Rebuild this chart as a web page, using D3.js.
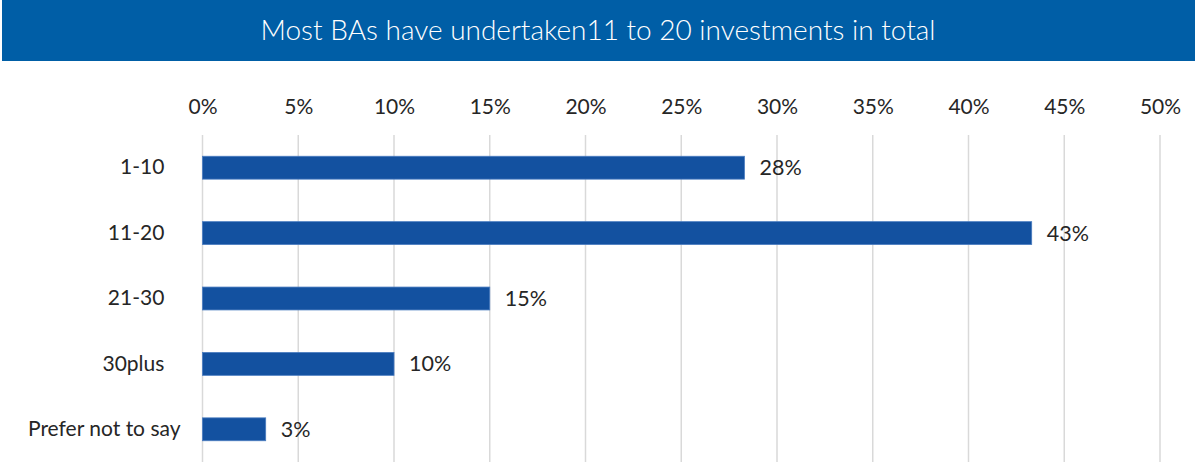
<!DOCTYPE html>
<html lang="en">
<head>
  <meta charset="UTF-8">
  <title>Number of investments</title>
  <script src="https://d3js.org/d3.v7.min.js"></script>
  <style>
    body {
      margin: 0;
      background: #fff;
      font-family: "Lato", "Noto Sans", sans-serif;
    }
    .grid line {
      stroke: #d9d9d9;
      stroke-width: 1.5;
    }
    .axis text {
      font-family: "Lato", "Noto Sans", sans-serif;
      font-size: 21px;
      fill: #262626;
    }
    .bar {
      fill: #1351a0;
      stroke: #4a7cc0;
      stroke-width: 0.8;
    }
    .label {
      font-size: 21.5px;
      fill: #262626;
    }
  </style>
</head>
<body>
  <div id="chart"></div>
  <script>
    // category names as in the source sheet (short ones carry trailing spaces)
    var categories = ["1-10\u00a0\u00a0\u00a0", "11-20\u00a0\u00a0\u00a0", "21-30\u00a0\u00a0\u00a0", "30plus\u00a0\u00a0\u00a0", "Prefer not to say"];
    var values = [28.3, 43.3, 15.0, 10.0, 3.3];
    var valueLabels = ["28%", "43%", "15%", "10%", "3%"];
    var tickValues = [0, 5, 10, 15, 20, 25, 30, 35, 40, 45, 50];
    var title = "Most BAs have undertaken11 to 20 investments in total";

    var W = 1195, H = 465;
    var margin = { top: 135, right: 35, bottom: 3, left: 202.5 };

    var svg = d3.select("#chart").append("svg")
      .attr("width", W)
      .attr("height", H);

    // title banner
    svg.append("rect")
      .attr("x", 2)
      .attr("y", 0)
      .attr("width", W - 2)
      .attr("height", 61)
      .attr("fill", "#005ea6");

    svg.append("text")
      .attr("x", 598)
      .attr("y", 30)
      .attr("dy", "0.35em")
      .attr("text-anchor", "middle")
      .attr("fill", "#fff")
      .style("font-size", "28px")
      .style("font-weight", 300)
      .text(title);

    var x = d3.scaleLinear()
      .domain([0, 50])
      .range([margin.left, 1160]);

    var y = d3.scaleBand()
      .domain(categories)
      .range([margin.top, H - margin.bottom])
      .paddingInner(0.65)
      .paddingOuter(0.325);

    // vertical gridlines
    svg.append("g")
      .attr("class", "grid")
      .selectAll("line")
      .data(tickValues)
      .enter().append("line")
      .attr("x1", function (d) { return x(d); })
      .attr("x2", function (d) { return x(d); })
      .attr("y1", margin.top)
      .attr("y2", H - margin.bottom);

    // top axis labels
    var xAxis = d3.axisTop(x)
      .tickValues(tickValues)
      .tickFormat(function (d) { return d + "%"; })
      .tickSize(0)
      .tickPadding(0);

    svg.append("g")
      .attr("class", "axis")
      .attr("transform", "translate(0,114)")
      .call(xAxis)
      .call(function (g) { g.select(".domain").remove(); });

    // category axis
    var yAxis = d3.axisLeft(y)
      .tickSize(0)
      .tickPadding(22);

    svg.append("g")
      .attr("class", "axis")
      .attr("transform", "translate(" + margin.left + ",0)")
      .call(yAxis)
      .call(function (g) { g.select(".domain").remove(); })
      .selectAll("text")
      .attr("xml:space", "preserve");

    svg.selectAll(".bar")
      .data(values)
      .enter().append("rect")
      .attr("class", "bar")
      .attr("x", x(0))
      .attr("y", function (d, i) { return y(categories[i]); })
      .attr("width", function (d) { return x(d) - x(0); })
      .attr("height", y.bandwidth());

    svg.selectAll(".label")
      .data(values)
      .enter().append("text")
      .attr("class", "label")
      .attr("x", function (d) { return x(d) + 15; })
      .attr("y", function (d, i) { return y(categories[i]) + y.bandwidth() / 2; })
      .attr("dy", "0.35em")
      .text(function (d, i) { return valueLabels[i]; });
  </script>
</body>
</html>
